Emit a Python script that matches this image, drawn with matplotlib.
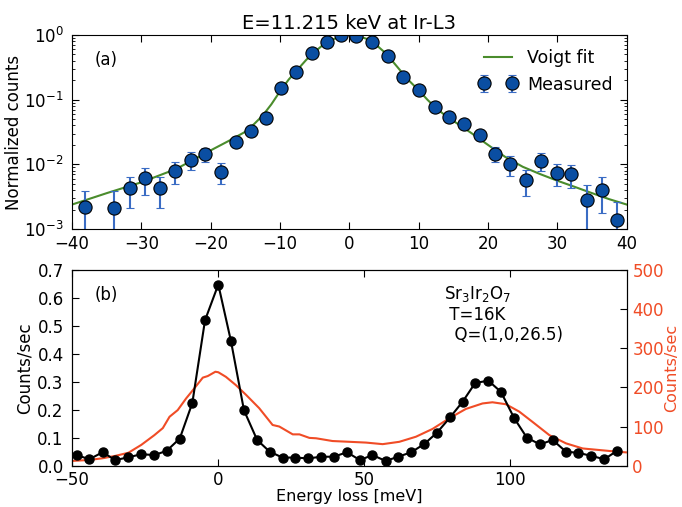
import numpy as np
import matplotlib
matplotlib.use('Agg')
import matplotlib.pyplot as plt

plt.rcParams['font.family'] = 'DejaVu Sans'
plt.rcParams['font.size'] = 12
plt.rcParams['xtick.direction'] = 'in'
plt.rcParams['ytick.direction'] = 'in'
plt.rcParams['xtick.major.size'] = 5
plt.rcParams['ytick.major.size'] = 5
plt.rcParams['xtick.minor.size'] = 2.5
plt.rcParams['ytick.minor.size'] = 2.5
plt.rcParams['xtick.major.pad'] = 4
plt.rcParams['ytick.major.pad'] = 6
plt.rcParams['xtick.top'] = True
plt.rcParams['mathtext.default'] = 'regular'

# (a) elastic line, normalized counts
meas_x = [-38.2, -34.0, -31.7, -29.5, -27.3, -25.1, -22.9, -20.8, -18.5, -16.4,
          -14.2, -12.0, -9.9, -7.7, -5.4, -3.3, -1.2, 1.0, 3.3, 5.6, 7.8, 10.0,
          12.3, 14.4, 16.6, 18.9, 21.0, 23.2, 25.45, 27.6, 29.9, 32.0, 34.3,
          36.5, 38.6]
meas_y = [0.0022, 0.00215, 0.0043, 0.0061, 0.0043, 0.0079, 0.0118, 0.0144,
          0.0077, 0.0225, 0.0326, 0.052, 0.151, 0.267, 0.52, 0.78, 1.0, 0.95,
          0.79, 0.48, 0.227, 0.142, 0.078, 0.055, 0.042, 0.0287, 0.0147,
          0.0102, 0.0058, 0.0115, 0.0074, 0.0071, 0.0028, 0.0041, 0.0014]
meas_err = [0.0017, 0.0017, 0.0022, 0.0027, 0.0022, 0.003, 0.0037, 0.0036,
            0.0028, 0.004, 0.005, 0.006, 0.011, 0.015, 0.02, 0.025, 0.03, 0.03,
            0.025, 0.02, 0.014, 0.011, 0.008, 0.007, 0.006, 0.005, 0.0039,
            0.0035, 0.0025, 0.0036, 0.0028, 0.0027, 0.002, 0.0023, 0.0012]

fit_x = [-40, -35, -30, -25, -22.5, -20, -17.5, -15, -13.75, -12.5, -11.25, -10,
         -8.75, -7.5, -6.25, -5, -3.75, -2.5, -1.25, 0, 1.25, 2.5, 3.75, 5,
         6.25, 7.5, 8.75, 10, 11.25, 12.5, 13.75, 15, 17.5, 20, 22.5, 25,
         27.5, 30, 32.5, 35, 37.5, 40]
fit_y = [0.0024, 0.0036, 0.0053, 0.0085, 0.0118, 0.0165, 0.0228, 0.032, 0.042,
         0.057, 0.085, 0.135, 0.205, 0.29, 0.41, 0.55, 0.71, 0.84, 0.96, 1.0,
         0.97, 0.87, 0.72, 0.55, 0.39, 0.27, 0.19, 0.14, 0.1, 0.074, 0.058,
         0.047, 0.031, 0.02, 0.013, 0.0092, 0.0071, 0.0056, 0.0045, 0.0036,
         0.0029, 0.0024]

# (b) RIXS spectrum
rixs_x = [-48.4, -44.1, -39.5, -35.2, -30.7, -26.3, -21.8, -17.6, -13.1, -8.8,
          -4.45, 0.1, 4.45, 8.9, 13.4, 17.7, 22.1, 26.5, 30.9, 35.3, 39.6,
          44.2, 48.6, 52.9, 57.4, 61.7, 66.2, 70.7, 75.0, 79.5, 83.8, 88.1,
          92.6, 96.9, 101.5, 105.8, 110.3, 114.6, 119.2, 123.4, 127.9, 132.3,
          136.8]
rixs_y = [0.038, 0.023, 0.048, 0.020, 0.030, 0.041, 0.038, 0.053, 0.097, 0.224,
          0.520, 0.648, 0.445, 0.198, 0.092, 0.050, 0.029, 0.029, 0.026, 0.032,
          0.032, 0.048, 0.020, 0.038, 0.017, 0.032, 0.048, 0.078, 0.118, 0.173,
          0.229, 0.296, 0.304, 0.264, 0.169, 0.100, 0.076, 0.092, 0.050, 0.046,
          0.035, 0.023, 0.054]

red_x = [-50.3, -44.1, -39.5, -35.2, -30.7, -26.3, -21.8, -18.9, -16.6, -13.8,
         -10.9, -8.6, -5.2, -3.5, -0.9, 0.1, 2.7, 6.1, 9.6, 14.1, 18.7, 21.0,
         25.6, 27.9, 31.3, 33.6, 39.2, 45.0, 50.7, 56.4, 62.1, 67.8, 73.5,
         79.2, 84.9, 90.6, 94.0, 98.6, 103.2, 107.7, 113.5, 119.2, 124.9,
         130.6, 136.3, 139.7]
red_y = [12, 14.6, 19, 25, 33, 53, 78, 96, 125, 142, 172, 193, 225, 229, 240,
         238.7, 227, 206, 181, 147, 104, 100, 80, 80, 71, 70, 63, 61, 59, 55,
         61, 74, 94, 121, 145, 159, 162, 157, 138, 112, 78, 57, 44, 40, 36, 34]

blue = '#0a4ea2'
ebar = '#3a6cc4'
green = '#4a8c2c'
red = '#f04c26'

fig = plt.figure(figsize=(6.82, 5.07), dpi=100)
ax = fig.add_axes([0.1056, 0.548, 0.8134, 0.383])
axb = fig.add_axes([0.1056, 0.0815, 0.8134, 0.386])

ax.plot(fit_x, fit_y, color=green, lw=1.5, label='Voigt fit')
ax.errorbar(meas_x, meas_y, yerr=meas_err, fmt='o', color=blue, ms=9.5,
            mec='black', mew=0.8, ecolor=ebar, elinewidth=1.5, capsize=3,
            capthick=1.5, label='Measured')
ax.set_yscale('log')
ax.set_xlim(-40, 40)
ax.set_ylim(1e-3, 1)
ax.set_xticks(range(-40, 41, 10))
ax.set_title('E=11.215 keV at Ir-L3', fontsize=14, pad=4)
ax.set_ylabel('Normalized counts', labelpad=1)
ax.tick_params(which='both', right=True)
ax.text(0.04, 0.92, '(a)', transform=ax.transAxes, va='top', fontsize=12)
ax.legend(loc='upper right', frameon=False, numpoints=2, handlelength=2.2,
          fontsize=12.5, borderaxespad=0.4, handletextpad=0.6)

ax2 = axb.twinx()
ax2.plot(red_x, red_y, color=red, lw=1.5)
ax2.set_ylim(0, 500)
ax2.set_yticks(range(0, 501, 100))
ax2.tick_params(axis='y', labelcolor=red, pad=4)
ax2.set_ylabel('Counts/sec', color=red, labelpad=0, fontsize=11.5)

axb.set_zorder(ax2.get_zorder() + 1)
axb.patch.set_visible(False)
axb.plot(rixs_x, rixs_y, '-o', color='black', ms=6.5, lw=1.5)
axb.set_xlim(-50, 140)
axb.set_ylim(0, 0.7)
axb.set_xticks([-50, 0, 50, 100])
axb.set_yticks(np.arange(0, 0.71, 0.1))
axb.set_xlabel('Energy loss [meV]', labelpad=0, fontsize=11.5)
axb.set_ylabel('Counts/sec', labelpad=3)
axb.text(0.04, 0.92, '(b)', transform=axb.transAxes, va='top', fontsize=12)
axb.text(0.67, 0.93, 'Sr$_3$Ir$_2$O$_7$\n T=16K\n  Q=(1,0,26.5)',
         transform=axb.transAxes, va='top', ha='left', fontsize=12,
         linespacing=1.15)

fig.savefig('out.png', dpi=100)
